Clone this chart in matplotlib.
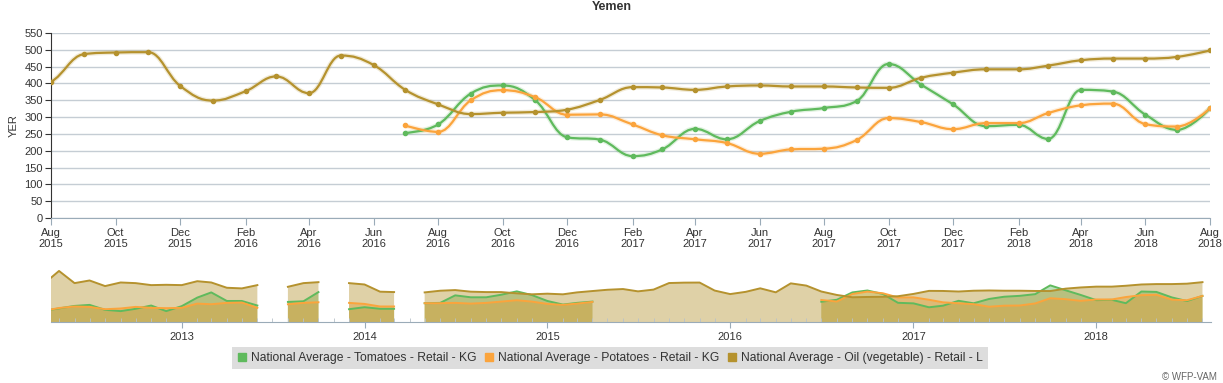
import matplotlib
matplotlib.use('Agg')
import matplotlib.pyplot as plt
import matplotlib.dates as mdates
from matplotlib.path import Path
from matplotlib.patches import PathPatch
from matplotlib.lines import Line2D
import numpy as np
import pandas as pd

plt.rcParams['font.family'] = ['Liberation Sans', 'DejaVu Sans']

# monthly prices, Apr 2012 .. Aug 2018 (None = no data)
months = pd.date_range('2012-04-01', '2018-08-01', freq='MS')

oil = [480, 638, 486, 519, 449, 494, 486, 461, 465,
       461, 510, 494, 428, 420, 461, None, 440, 486, 498, None, 486,
       469, 379, 374, None, 370, 391, 399, 379, 374, 374, 358, 346,
       354, 346, 370, 387, 403, 412, 383,
       405, 487, 492, 493, 393, 349, 377, 421, 371, 483, 455, 381,
       338, 309, 313, 315, 322, 351, 389, 388, 381, 391, 394, 391,
       391, 388, 387, 417, 432, 442, 442, 453, 469, 474, 474, 479, 498]

tomatoes = [140, 170, 201, 214, 152, 136, 165, 206, 136,
            198, 305, 370, 263, 263, 206, None, 251, 259, 374, None, 160,
            185, 165, 165, None, 235, 239, 333, 309, 309, 341, 383, 337,
            263, 218, 239, 255, None, None, None,
            None, None, None, None, None, None, None, None, None, None, None,
            253, 278, 370, 394, 350, 240, 233, 184, 204, 265, 234, 288, 316,
            327, 348, 458, 396, 338, 273, 277, 235, 381, 376, 307, 262, 326]

potatoes = [140, 175, 194, 189, 160, 169, 189, 177, 173,
            177, 230, 222, 239, 243, 177, None, 222, 239, 247, None, 239,
            226, 194, 194, None, 235, 235, 239, 230, 239, 255, 272, 255,
            226, 214, 230, 251, None, None, None,
            None, None, None, None, None, None, None, None, None, None, None,
            275, 256, 350, 380, 359, 307, 308, 278, 246, 234, 223, 191, 204,
            206, 232, 297, 285, 264, 282, 282, 312, 335, 340, 279, 272, 326]

names = ['National Average - Tomatoes - Retail - KG',
         'National Average - Potatoes - Retail - KG',
         'National Average - Oil (vegetable) - Retail - L']
colors = ['#5fba5d', '#fba43c', '#b5922e']
series = [tomatoes, potatoes, oil]


def spline_path(x, y):
    # highcharts-like spline through the points (smoothing 1.5)
    verts, codes = [], []
    n = len(x)
    seg = []
    for i in range(n + 1):
        if i < n and not np.isnan(y[i]):
            seg.append(i)
            continue
        if seg:
            xs, ys = x[seg], y[seg]
            m = len(seg)
            lc = [(xs[k], ys[k]) for k in range(m)]
            rc = [(xs[k], ys[k]) for k in range(m)]
            for k in range(1, m - 1):
                px, py = xs[k], ys[k]
                lx = (1.5 * px + xs[k - 1]) / 2.5
                ly = (1.5 * py + ys[k - 1]) / 2.5
                rx = (1.5 * px + xs[k + 1]) / 2.5
                ry = (1.5 * py + ys[k + 1]) / 2.5
                corr = 0
                if rx != lx:
                    corr = (ry - ly) * (rx - px) / (rx - lx) + py - ry
                ly += corr
                ry += corr
                if ly > ys[k - 1] and ly > py:
                    ly = max(ys[k - 1], py); ry = 2 * py - ly
                elif ly < ys[k - 1] and ly < py:
                    ly = min(ys[k - 1], py); ry = 2 * py - ly
                if ry > ys[k + 1] and ry > py:
                    ry = max(ys[k + 1], py); ly = 2 * py - ry
                elif ry < ys[k + 1] and ry < py:
                    ry = min(ys[k + 1], py); ly = 2 * py - ry
                lc[k] = (lx, ly)
                rc[k] = (rx, ry)
            verts.append((xs[0], ys[0]))
            codes.append(Path.MOVETO)
            for k in range(1, m):
                verts += [rc[k - 1], lc[k], (xs[k], ys[k])]
                codes += [Path.CURVE4] * 3
        seg = []
    return Path(verts, codes)


xd = mdates.date2num(months)

fig = plt.figure(figsize=(12.23, 3.83), dpi=100)

# main chart
ax = fig.add_axes([51 / 1223, 1 - 218 / 383, 1159 / 1223, 185 / 383])
for vals, c in zip(series, colors):
    y = np.array([np.nan if v is None else v for v in vals], dtype=float)
    p = spline_path(xd, y)
    ax.add_patch(PathPatch(p, fill=False, edgecolor=c, lw=3.5, alpha=0.18, zorder=3))
    ax.add_patch(PathPatch(p, fill=False, edgecolor=c, lw=1.6, zorder=4))
    ax.plot(xd, y, 'o', color=c, ms=3, zorder=5)

ax.set_xlim(mdates.date2num(pd.Timestamp('2015-08-01')), mdates.date2num(pd.Timestamp('2018-08-01')))
ax.set_ylim(0, 550)
ax.set_yticks(np.arange(0, 551, 50))
ax.xaxis.set_major_locator(mdates.MonthLocator(bymonth=[2, 4, 6, 8, 10, 12]))
ax.xaxis.set_major_formatter(mdates.DateFormatter('%b\n%Y'))
ax.grid(axis='y', color='#c5cdd4', lw=1)
ax.set_axisbelow(True)
for s in ['top', 'right']:
    ax.spines[s].set_visible(False)
ax.spines['left'].set_color('#333333')
ax.spines['bottom'].set_color('#9aabb8')
ax.tick_params(axis='y', labelsize=8, colors='#333333', length=4, pad=2)
ax.tick_params(axis='x', labelsize=8, colors='#9aabb8', labelcolor='#333333', length=5, pad=2)
ax.set_ylabel('YER', fontsize=8, color='#333333', labelpad=4)
fig.text(0.5, 1 - 7 / 383, 'Yemen', ha='center', va='center', fontsize=9, fontweight='bold', color='#333333')

# navigator
nav = fig.add_axes([51 / 1223, 1 - 322 / 383, 1160 / 1223, 60 / 383])
for vals, c in zip(series, colors):
    y = np.array([np.nan if v is None else v for v in vals], dtype=float)
    nav.fill_between(xd, 0, y, color=c, alpha=0.42, lw=0)
    nav.plot(xd, y, color=c, lw=1.4)
nav.set_xlim(mdates.date2num(pd.Timestamp('2012-04-15')), mdates.date2num(pd.Timestamp('2018-08-18')))
nav.set_ylim(0, 750)
nav.set_yticks([])
nav.xaxis.set_major_locator(mdates.YearLocator())
nav.xaxis.set_major_formatter(mdates.DateFormatter('%Y'))
nav.xaxis.set_minor_locator(mdates.MonthLocator())
for s in ['top', 'right', 'left']:
    nav.spines[s].set_visible(False)
nav.spines['bottom'].set_color('#9aabb8')
nav.tick_params(axis='x', which='major', labelsize=8, colors='#9aabb8', labelcolor='#333333', length=4, pad=3)
nav.tick_params(axis='x', which='minor', direction='in', colors='#b8c2ca', length=3)

# legend
handles = [Line2D([], [], ls='none', marker='s', ms=6, color=c) for c in colors]
leg = fig.legend(handles, names, loc='center', bbox_to_anchor=(610 / 1223, 1 - 358 / 383), ncol=3,
                 fontsize=8.7, frameon=True, fancybox=False, handlelength=0.7, handletextpad=0.4,
                 columnspacing=0.7, borderpad=0.45, labelcolor='#333333')
leg.get_frame().set_facecolor('#dddddd')
leg.get_frame().set_edgecolor('none')
leg.get_frame().set_alpha(1)

fig.text(1217 / 1223, 1 - 377 / 383, '\u00a9 WFP-VAM', ha='right', va='center', fontsize=7, color='#666666')

plt.savefig('out.png', dpi=100)
